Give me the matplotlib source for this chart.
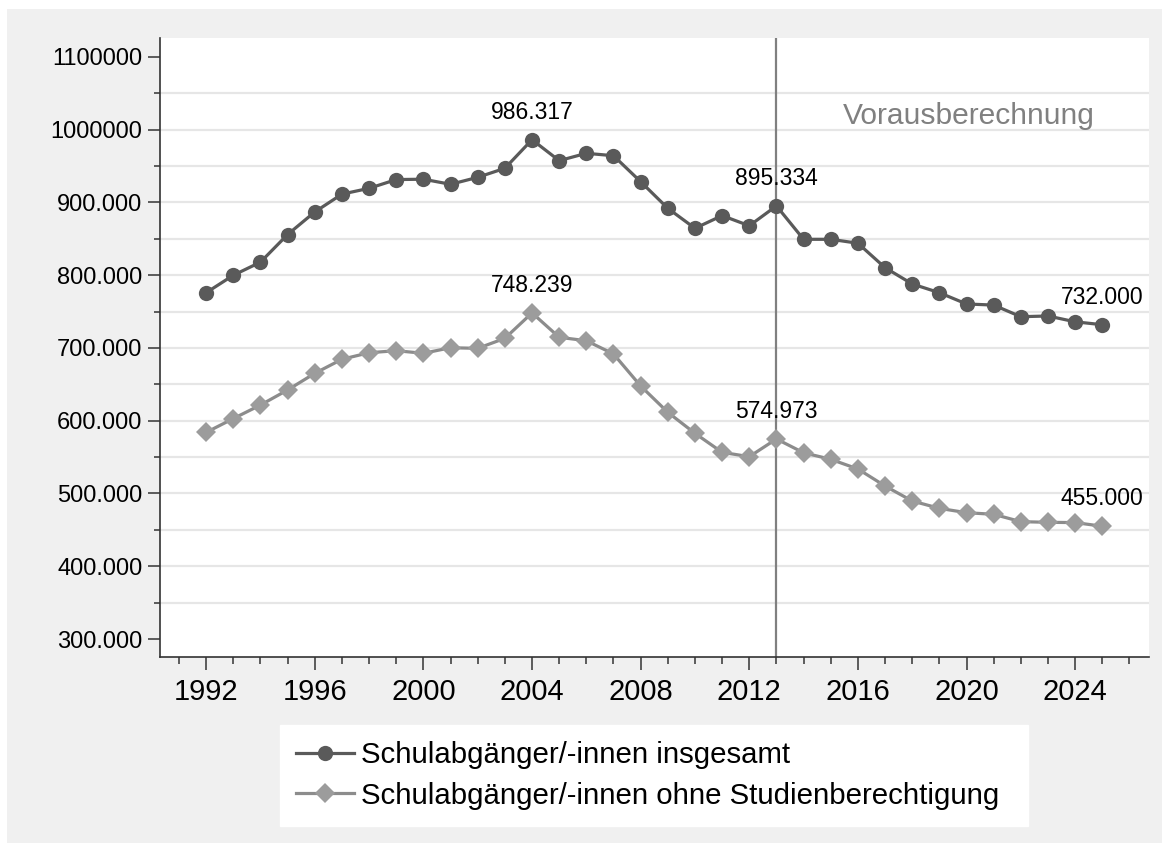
import matplotlib.pyplot as plt
from matplotlib.patches import Rectangle
from matplotlib.ticker import FuncFormatter, MultipleLocator

plt.rcParams['font.family'] = ['Liberation Sans', 'DejaVu Sans']

# Schulabgänger/-innen, ab 2014 Vorausberechnung
years = list(range(1992, 2026))
insgesamt = [
    776000, 800000, 818000, 856000, 887000, 911500, 919500, 931500, 932000, 925000,
    934600, 947000, 986317, 957500, 967600, 964300, 928600, 892000, 864500, 882000,
    868000, 895334, 849400, 849400, 844000, 810400, 788000, 776000, 760500, 759000,
    743000, 744000, 736000, 732000,
]
ohne_studienberechtigung = [
    584000, 603000, 621600, 642300, 665200, 684500, 693500, 696300, 692700, 700400,
    699500, 713300, 748239, 714700, 710000, 691800, 647800, 611600, 582700, 556600,
    550600, 574973, 556000, 547000, 533700, 510300, 489700, 479600, 473600, 471400,
    461300, 460400, 460000, 455000,
]
label_years = [2004, 2013, 2025]
split_year = 2013
grid_values = list(range(350000, 1100000, 50000))

label_total = 'Schulabgänger/-innen insgesamt'
label_ohne = 'Schulabgänger/-innen ohne Studienberechtigung'

W, H = 1171, 852
fig = plt.figure(figsize=(W / 100, H / 100), dpi=100, facecolor='white')
fig.patches.append(Rectangle((7 / W, 1 - 843 / H), 1155 / W, 834 / H,
                             transform=fig.transFigure, facecolor='#f0f0f0',
                             edgecolor='none', zorder=-10))

ax = fig.add_axes([160 / W, 1 - 657 / H, 989 / W, 619 / H])
ax.set_facecolor('white')

for g in grid_values:
    ax.axhline(g, color='#e6e6e6', linewidth=1.6, zorder=0)

ax.axvline(split_year, color='#808080', linewidth=1.6, zorder=1)

ax.plot(years, insgesamt, color='#5a5a5a', linewidth=2.3, marker='o',
        markersize=11, markeredgewidth=0, label=label_total, zorder=3)
ax.plot(years, ohne_studienberechtigung, color='#8c8c8c', linewidth=2.3, marker='D',
        markersize=10, markerfacecolor='#9c9c9c', markeredgewidth=0,
        label=label_ohne, zorder=3)


def fmt_de(v):
    return f'{int(round(v)):,}'.replace(',', '.')


for series in (insgesamt, ohne_studienberechtigung):
    for yr in label_years:
        v = series[years.index(yr)]
        ax.annotate(fmt_de(v), (yr, v), xytext=(0, 15), textcoords='offset points',
                    ha='center', va='baseline', fontsize=16.5, color='black', zorder=4)

ax.text(2015.45, 1008000, 'Vorausberechnung', fontsize=21.6, color='#808080',
        ha='left', va='baseline')

ax.set_xlim(1990.3, 2026.72)
ax.set_ylim(275260, 1126100)

ax.xaxis.set_minor_locator(MultipleLocator(1))
ax.set_xticks(range(1992, 2025, 4))
ax.yaxis.set_minor_locator(MultipleLocator(50000))
ax.set_yticks(range(300000, 1100001, 100000))


def ylab(v, pos):
    if v >= 1000000:
        return str(int(v))
    return fmt_de(v)


ax.yaxis.set_major_formatter(FuncFormatter(ylab))

for s in ('top', 'right'):
    ax.spines[s].set_visible(False)
for s in ('left', 'bottom'):
    ax.spines[s].set_color('#333333')
    ax.spines[s].set_linewidth(1.2)

ax.tick_params(axis='y', which='major', length=8.6, width=1.1, color='#333333',
               labelsize=17, pad=4)
ax.tick_params(axis='y', which='minor', length=4.3, width=1.1, color='#333333')
ax.tick_params(axis='x', which='major', length=9.4, width=1.1, color='#333333',
               labelsize=21, pad=6)
ax.tick_params(axis='x', which='minor', length=5, width=1.1, color='#333333')

fig.legend(loc='upper left', bbox_to_anchor=(280 / W, 1 - 819 / H, 748 / W, 94 / H),
           mode='expand', borderaxespad=0, frameon=True, fancybox=False,
           facecolor='white', edgecolor='white', framealpha=1, fontsize=21.2,
           handlelength=1.95, handletextpad=0.25, labelspacing=0.42, borderpad=0.55,
           numpoints=1)

fig.savefig('out.png', dpi=100, facecolor='white')
